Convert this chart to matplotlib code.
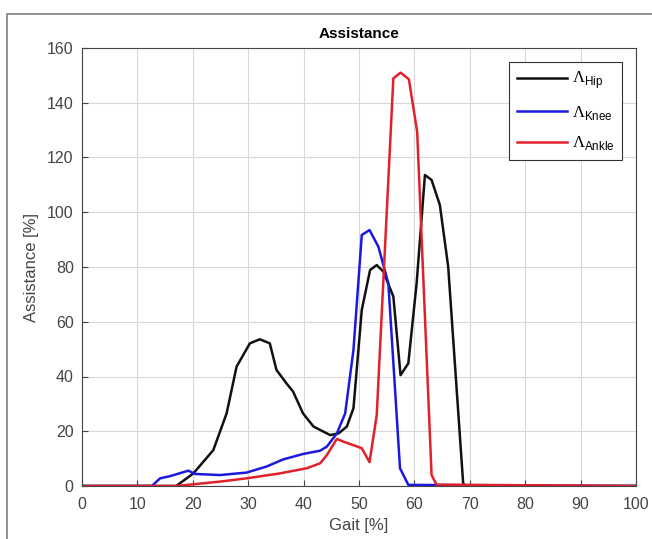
import matplotlib
matplotlib.use("Agg")
import matplotlib.pyplot as plt
from matplotlib.patches import Rectangle

hip_x = [0, 17.0, 20.1, 23.7, 26.1, 27.9, 30.3, 32.1, 33.9, 35.1, 36.9, 38.1, 39.9, 41.8, 44.8, 46.3, 47.8,
         49.0, 50.5, 52.0, 53.2, 54.4, 56.2, 57.5, 58.9, 60.4, 61.9, 63.1, 64.6, 66.1, 68.8, 69.2, 100]
hip_y = [0, 0, 4.6, 13.1, 26.5, 43.6, 52.1, 53.6, 52.1, 42.4, 37.5, 34.5, 26.5, 21.7, 18.6, 19.2, 21.7,
         28.4, 64.3, 78.9, 80.7, 78.3, 69.2, 40.5, 44.8, 74.0, 113.6, 111.8, 102.6, 80.1, 1.0, 0, 0]

knee_x = [0, 12.6, 14.1, 15.9, 19.2, 20.4, 24.9, 29.7, 33.3, 36.3, 39.9, 43.0, 44.2, 46.0, 47.5,
          49.0, 50.5, 51.9, 53.5, 55.3, 57.4, 58.9, 100]
knee_y = [0, 0, 2.8, 3.6, 5.6, 4.4, 4.0, 4.9, 7.1, 9.7, 11.7, 12.9, 14.4, 19.2, 26.5,
          49.7, 91.7, 93.5, 87.4, 74.0, 6.5, 0.4, 0]

ankle_x = [0, 17.0, 24.9, 29.7, 35.7, 40.6, 43.0, 44.2, 46.0, 47.2, 50.5, 51.9, 53.2, 56.2, 57.5,
           59.0, 60.5, 63.1, 64.0, 100]
ankle_y = [0, 0, 1.6, 2.8, 4.6, 6.5, 8.3, 11.3, 17.2, 16.2, 13.8, 8.7, 25.9, 148.9, 151.0,
           148.6, 129.4, 4.0, 0.5, 0]

x_ticks = list(range(0, 101, 10))
y_ticks = list(range(0, 161, 20))

plt.rcParams['font.family'] = ['Liberation Sans', 'DejaVu Sans']
plt.rcParams['mathtext.fontset'] = 'custom'
plt.rcParams['mathtext.rm'] = 'Liberation Serif'
plt.rcParams['mathtext.sf'] = 'Liberation Sans'

fig = plt.figure(figsize=(6.52, 5.39), dpi=100)
fig.patches.append(Rectangle((7 / 652, -0.05), 1.2, 1 - 14 / 539 + 0.05, transform=fig.transFigure,
                             fill=False, edgecolor='#808080', linewidth=1.2))
ax = fig.add_axes([82 / 652, 1 - 486 / 539, (636 - 82) / 652, (486 - 48) / 539])

ax.plot(hip_x, hip_y, color='#111111', lw=1.8, label=r'$\Lambda_{\mathsf{Hip}}$')
ax.plot(knee_x, knee_y, color='#1a1adf', lw=1.8, label=r'$\Lambda_{\mathsf{Knee}}$')
ax.plot(ankle_x, ankle_y, color='#e0202a', lw=1.8, label=r'$\Lambda_{\mathsf{Ankle}}$')

ax.set_xlim(0, 100)
ax.set_ylim(0, 160)
ax.set_xticks(x_ticks)
ax.set_yticks(y_ticks)
ax.tick_params(direction='in', labelsize=11.5, colors='#444444', length=4)
ax.tick_params(axis='x', pad=8)
ax.tick_params(axis='y', pad=6)
ax.grid(True, color='#d8d8d8', lw=0.8)
for s in ax.spines.values():
    s.set_color('#444444')
    s.set_linewidth(0.8)
ax.set_xlabel('Gait [%]', fontsize=12, color='#444444', labelpad=4)
ax.set_ylabel('Assistance [%]', fontsize=12, color='#444444', labelpad=6)
ax.set_title('Assistance', fontsize=11, fontweight='bold', pad=7)

leg = ax.legend(loc='upper right', bbox_to_anchor=(0.975, 0.968), borderaxespad=0, fontsize=12,
                fancybox=False, framealpha=1, edgecolor='#333333', handlelength=3.0,
                handletextpad=0.3, borderpad=0.45, labelspacing=0.75)
leg.get_frame().set_linewidth(0.8)

fig.savefig('out.png', dpi=100)
